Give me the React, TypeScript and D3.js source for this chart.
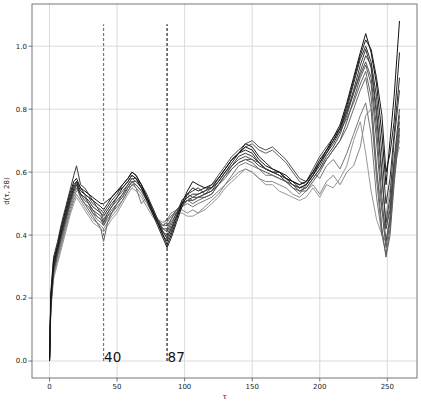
import React from 'react';
import * as d3 from 'd3';

// tau sample points shared by every curve
const taus = [
  0, 1, 3, 6, 9, 12, 15, 18, 20,
  23, 26, 29, 32, 35, 38, 40,
  43, 46, 50, 54, 58, 61, 64,
  68, 72, 76, 80, 84, 87,
  90, 94, 98, 102, 106, 110,
  115, 120, 125, 130, 135, 140, 145,
  150, 155, 160, 165, 170, 175, 180, 185,
  190, 195, 200, 205, 210, 215, 220, 225, 230,
  234, 238, 242, 246, 249, 252, 255, 259,
];

const s1 = [
  0, 0.21, 0.32, 0.37, 0.43, 0.48, 0.53, 0.57, 0.58,
  0.55, 0.54, 0.53, 0.52, 0.51, 0.50, 0.50,
  0.51, 0.52, 0.54, 0.56, 0.58, 0.60, 0.59,
  0.56, 0.52, 0.48, 0.44, 0.40, 0.37,
  0.40, 0.45, 0.50, 0.54, 0.57, 0.56,
  0.55, 0.56, 0.58, 0.61, 0.64, 0.66, 0.68,
  0.67, 0.64, 0.62, 0.61, 0.60, 0.59, 0.57, 0.56,
  0.57, 0.60, 0.64, 0.67, 0.71, 0.75, 0.82, 0.90, 0.98,
  1.04, 0.98, 0.88, 0.72, 0.56, 0.70, 0.84, 1.08,
];
const s2 = [
  0, 0.19, 0.30, 0.36, 0.42, 0.47, 0.52, 0.56, 0.57,
  0.54, 0.53, 0.52, 0.51, 0.50, 0.49, 0.48,
  0.50, 0.52, 0.54, 0.55, 0.57, 0.59, 0.58,
  0.55, 0.51, 0.47, 0.43, 0.39, 0.36,
  0.39, 0.44, 0.49, 0.53, 0.55, 0.54,
  0.55, 0.55, 0.57, 0.60, 0.63, 0.66, 0.69,
  0.68, 0.65, 0.63, 0.61, 0.60, 0.58, 0.57, 0.55,
  0.56, 0.59, 0.63, 0.66, 0.70, 0.74, 0.81, 0.89, 0.97,
  1.02, 0.99, 0.90, 0.78, 0.60, 0.66, 0.76, 0.98,
];
const s3 = [
  0, 0.20, 0.31, 0.36, 0.41, 0.46, 0.51, 0.55, 0.56,
  0.53, 0.52, 0.51, 0.49, 0.48, 0.47, 0.46,
  0.48, 0.50, 0.52, 0.55, 0.57, 0.59, 0.58,
  0.55, 0.52, 0.48, 0.44, 0.40, 0.38,
  0.41, 0.46, 0.50, 0.52, 0.53, 0.53,
  0.54, 0.55, 0.58, 0.61, 0.64, 0.66, 0.67,
  0.66, 0.63, 0.61, 0.60, 0.59, 0.58, 0.57, 0.56,
  0.57, 0.60, 0.63, 0.67, 0.70, 0.74, 0.80, 0.88, 0.96,
  1.00, 0.95, 0.84, 0.66, 0.50, 0.58, 0.72, 0.90,
];
const s4 = [
  0, 0.22, 0.33, 0.38, 0.44, 0.49, 0.54, 0.59, 0.62,
  0.56, 0.55, 0.53, 0.51, 0.49, 0.48, 0.47,
  0.49, 0.51, 0.53, 0.56, 0.58, 0.60, 0.59,
  0.56, 0.53, 0.49, 0.45, 0.41, 0.39,
  0.42, 0.46, 0.51, 0.53, 0.54, 0.55,
  0.53, 0.54, 0.57, 0.60, 0.62, 0.65, 0.66,
  0.65, 0.63, 0.61, 0.60, 0.60, 0.58, 0.56, 0.55,
  0.56, 0.59, 0.62, 0.66, 0.69, 0.73, 0.79, 0.86, 0.94,
  0.99, 0.93, 0.78, 0.58, 0.44, 0.52, 0.70, 0.86,
];
const s5 = [
  0, 0.18, 0.29, 0.35, 0.40, 0.45, 0.50, 0.54, 0.56,
  0.53, 0.51, 0.50, 0.48, 0.47, 0.46, 0.44,
  0.47, 0.49, 0.52, 0.54, 0.56, 0.58, 0.58,
  0.56, 0.52, 0.49, 0.45, 0.41, 0.40,
  0.43, 0.47, 0.50, 0.51, 0.52, 0.52,
  0.53, 0.54, 0.56, 0.59, 0.62, 0.64, 0.65,
  0.64, 0.62, 0.61, 0.60, 0.59, 0.57, 0.56, 0.54,
  0.55, 0.58, 0.61, 0.65, 0.68, 0.72, 0.78, 0.85, 0.92,
  0.97, 0.94, 0.80, 0.60, 0.42, 0.48, 0.64, 0.80,
];
const s6 = [
  0, 0.20, 0.30, 0.36, 0.41, 0.46, 0.51, 0.55, 0.57,
  0.55, 0.53, 0.52, 0.50, 0.49, 0.47, 0.45,
  0.47, 0.49, 0.51, 0.53, 0.56, 0.58, 0.57,
  0.55, 0.52, 0.48, 0.45, 0.42, 0.41,
  0.44, 0.47, 0.51, 0.53, 0.52, 0.53,
  0.54, 0.56, 0.59, 0.62, 0.65, 0.67, 0.69,
  0.70, 0.68, 0.67, 0.68, 0.66, 0.64, 0.61, 0.58,
  0.57, 0.61, 0.65, 0.68, 0.71, 0.74, 0.79, 0.85, 0.91,
  0.95, 0.90, 0.74, 0.52, 0.38, 0.45, 0.62, 0.78,
];
const s7 = [
  0, 0.17, 0.28, 0.34, 0.40, 0.45, 0.50, 0.55, 0.57,
  0.52, 0.50, 0.49, 0.47, 0.46, 0.45, 0.43,
  0.46, 0.48, 0.50, 0.53, 0.55, 0.57, 0.57,
  0.55, 0.51, 0.48, 0.44, 0.41, 0.39,
  0.42, 0.46, 0.49, 0.51, 0.51, 0.52,
  0.52, 0.53, 0.56, 0.59, 0.61, 0.63, 0.64,
  0.63, 0.61, 0.60, 0.59, 0.58, 0.57, 0.55, 0.54,
  0.54, 0.57, 0.60, 0.64, 0.67, 0.70, 0.76, 0.83, 0.90,
  0.94, 0.88, 0.70, 0.48, 0.36, 0.44, 0.60, 0.76,
];
const s8 = [
  0, 0.19, 0.30, 0.35, 0.40, 0.45, 0.50, 0.54, 0.55,
  0.52, 0.50, 0.48, 0.46, 0.44, 0.42, 0.38,
  0.44, 0.47, 0.50, 0.52, 0.55, 0.57, 0.56,
  0.54, 0.51, 0.47, 0.44, 0.42, 0.42,
  0.45, 0.48, 0.50, 0.52, 0.51, 0.52,
  0.53, 0.55, 0.58, 0.61, 0.64, 0.66, 0.68,
  0.69, 0.67, 0.66, 0.67, 0.65, 0.63, 0.60, 0.57,
  0.56, 0.59, 0.63, 0.67, 0.70, 0.73, 0.77, 0.82, 0.88,
  0.92, 0.84, 0.62, 0.42, 0.33, 0.40, 0.56, 0.74,
];
const s9 = [
  0, 0.18, 0.29, 0.34, 0.39, 0.44, 0.49, 0.53, 0.55,
  0.53, 0.52, 0.50, 0.48, 0.46, 0.45, 0.44,
  0.46, 0.47, 0.49, 0.51, 0.54, 0.56, 0.56,
  0.54, 0.51, 0.48, 0.45, 0.43, 0.43,
  0.45, 0.48, 0.50, 0.51, 0.50, 0.51,
  0.52, 0.53, 0.56, 0.58, 0.61, 0.63, 0.64,
  0.64, 0.63, 0.61, 0.60, 0.60, 0.58, 0.56, 0.55,
  0.55, 0.58, 0.61, 0.64, 0.67, 0.70, 0.74, 0.80, 0.86,
  0.90, 0.80, 0.58, 0.40, 0.34, 0.42, 0.58, 0.72,
];
const s10 = [
  0, 0.18, 0.28, 0.33, 0.38, 0.43, 0.48, 0.52, 0.54,
  0.55, 0.53, 0.50, 0.47, 0.45, 0.44, 0.43,
  0.45, 0.47, 0.50, 0.52, 0.55, 0.57, 0.55,
  0.50, 0.52, 0.48, 0.45, 0.43, 0.44,
  0.46, 0.48, 0.49, 0.50, 0.49, 0.50,
  0.51, 0.52, 0.54, 0.56, 0.59, 0.62, 0.63,
  0.62, 0.61, 0.59, 0.59, 0.58, 0.57, 0.55, 0.53,
  0.56, 0.60, 0.58, 0.62, 0.64, 0.61, 0.66, 0.72, 0.78,
  0.82, 0.72, 0.52, 0.40, 0.38, 0.46, 0.60, 0.74,
];
const s11 = [
  0, 0.17, 0.27, 0.32, 0.37, 0.42, 0.47, 0.51, 0.53,
  0.51, 0.49, 0.47, 0.45, 0.44, 0.43, 0.42,
  0.44, 0.46, 0.48, 0.51, 0.54, 0.56, 0.55,
  0.53, 0.50, 0.47, 0.45, 0.44, 0.45,
  0.47, 0.48, 0.48, 0.47, 0.48, 0.47,
  0.49, 0.51, 0.53, 0.56, 0.58, 0.60, 0.61,
  0.60, 0.58, 0.57, 0.57, 0.56, 0.55, 0.53, 0.52,
  0.54, 0.56, 0.53, 0.57, 0.59, 0.56, 0.60, 0.62, 0.68,
  0.78, 0.80, 0.60, 0.48, 0.42, 0.50, 0.62, 0.70,
];
const s12 = [
  0, 0.16, 0.26, 0.31, 0.36, 0.41, 0.46, 0.50, 0.52,
  0.50, 0.48, 0.46, 0.44, 0.43, 0.42, 0.41,
  0.43, 0.45, 0.47, 0.50, 0.53, 0.55, 0.54,
  0.52, 0.49, 0.46, 0.44, 0.43, 0.45,
  0.46, 0.47, 0.47, 0.46, 0.46, 0.47,
  0.48, 0.50, 0.52, 0.55, 0.57, 0.59, 0.61,
  0.60, 0.58, 0.56, 0.56, 0.54, 0.53, 0.52, 0.51,
  0.52, 0.55, 0.52, 0.56, 0.55, 0.58, 0.62, 0.70, 0.76,
  0.66, 0.54, 0.45, 0.40, 0.46, 0.55, 0.62, 0.68,
];

const series = [s1, s2, s3, s4, s5, s6, s7, s8, s9, s10, s11, s12];
const shades = ['#111', '#1e1e1e', '#2e2e2e', '#3a3a3a', '#454545', '#4f4f4f', '#585858', '#606060', '#6a6a6a', '#787878', '#888', '#999'];

const markers = [40, 87];
const markerColors = ['#777', '#222'];
const markerTop = 1.07;

const xTicks = [0, 50, 100, 150, 200, 250];
const yTicks = [0, 0.2, 0.4, 0.6, 0.8, 1.0];

const W = 421;
const H = 405;
const margin = { top: 4, right: 4, bottom: 27, left: 32 };

export default function App() {
  const xMax = d3.max(taus)!;
  const yMax = d3.max(series, s => d3.max(s)!)!;
  const x = d3.scaleLinear()
    .domain([-0.05 * xMax, xMax * 1.05])
    .range([margin.left, W - margin.right]);
  const y = d3.scaleLinear()
    .domain([-0.05 * yMax, yMax * 1.05])
    .range([H - margin.bottom, margin.top]);

  const line = d3.line<number>()
    .x((_, i) => x(taus[i]))
    .y(d => y(d));

  const x0 = margin.left;
  const x1 = W - margin.right;
  const y0 = H - margin.bottom;
  const y1 = margin.top;
  const font = 'DejaVu Sans, sans-serif';

  return (
    <div style={{ position: 'absolute', left: 0, top: 0 }}>
      <svg width={W} height={H} style={{ display: 'block', background: '#fff' }}>
        {/* grid */}
        <g stroke="#d0d0d0" strokeWidth={0.8}>
          {xTicks.map(t => <line key={'gx' + t} x1={x(t)} x2={x(t)} y1={y1} y2={y0} />)}
          {yTicks.map(t => <line key={'gy' + t} x1={x0} x2={x1} y1={y(t)} y2={y(t)} />)}
        </g>

        {/* curves, lightest first so the dark ones sit on top */}
        <g fill="none" strokeWidth={1} strokeLinejoin="round">
          {series.map((s, i) => ({ s, i })).reverse().map(({ s, i }) => (
            <path key={i} d={line(s)!} stroke={shades[i]} />
          ))}
        </g>

        {/* marker lines */}
        {markers.map((m, i) => (
          <g key={'m' + m}>
            <line x1={x(m)} x2={x(m)} y1={y(0)} y2={y(markerTop)}
              stroke={markerColors[i]} strokeWidth={1.2} strokeDasharray="3,2" />
            <text x={x(m) + 0.5} y={y(0) + 1} fontSize={13.5} fontFamily={font} fill="#111">{m}</text>
          </g>
        ))}

        {/* spines */}
        <rect x={x0} y={y1} width={x1 - x0} height={y0 - y1} fill="none" stroke="#777" strokeWidth={1} />

        {/* x axis */}
        {xTicks.map(t => (
          <g key={'xt' + t} transform={`translate(${x(t)},${y0})`}>
            <line y2={3.5} stroke="#555" strokeWidth={0.8} />
            <text y={11} textAnchor="middle" fontSize={7} fontFamily={font} fill="#222">{t}</text>
          </g>
        ))}
        {/* y axis */}
        {yTicks.map(t => (
          <g key={'yt' + t} transform={`translate(${x0},${y(t)})`}>
            <line x2={-3.5} stroke="#555" strokeWidth={0.8} />
            <text x={-5} dy="0.35em" textAnchor="end" fontSize={7} fontFamily={font} fill="#222">{d3.format('.1f')(t)}</text>
          </g>
        ))}

        <text x={(x0 + x1) / 2} y={399} textAnchor="middle" fontSize={7} fontFamily={font} fill="#222">τ</text>
        <text transform={`translate(9,${(y0 + y1) / 2}) rotate(-90)`} textAnchor="middle" fontSize={7} fontFamily={font} fill="#222">d(τ, 28)</text>
      </svg>
    </div>
  );
}
